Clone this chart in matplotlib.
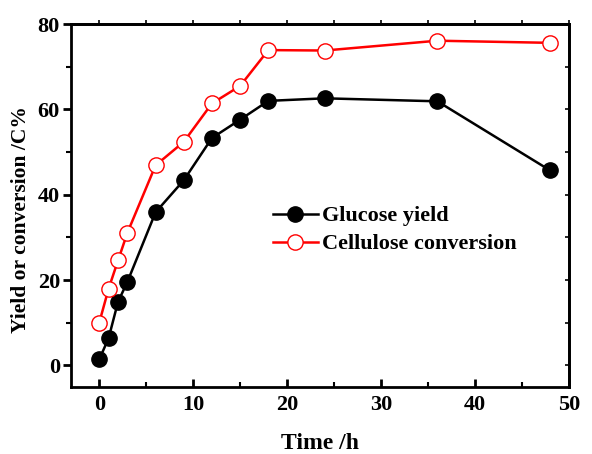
import matplotlib.pyplot as plt
from matplotlib.ticker import MultipleLocator

time_h = [0, 1, 2, 3, 6, 9, 12, 15, 18, 24, 36, 48]
glucose_yield = [1.4, 6.4, 14.9, 19.6, 35.9, 43.4, 53.3, 57.6, 62.0, 62.6, 61.9, 45.7]
cellulose_conv = [10.0, 18.0, 24.6, 31.1, 46.9, 52.4, 61.4, 65.5, 73.9, 73.8, 76.1, 75.6]

plt.rcParams['font.family'] = ['Liberation Serif', 'DejaVu Serif']
plt.rcParams['font.weight'] = 'bold'

fig = plt.figure(figsize=(5.92, 4.54), dpi=100)
ax = fig.add_axes([0.12, 0.148, 0.841, 0.799])

ax.plot(time_h, glucose_yield, color='black', lw=1.8, marker='o', ms=11,
        mfc='black', mec='black', label='Glucose yield')
ax.plot(time_h, cellulose_conv, color='red', lw=1.8, marker='o', ms=11,
        mfc='white', mec='red', mew=1.0, label='Cellulose conversion')

ax.set_xlim(-3, 50)
ax.set_ylim(-5, 80)
ax.xaxis.set_major_locator(MultipleLocator(10))
ax.xaxis.set_minor_locator(MultipleLocator(5))
ax.yaxis.set_major_locator(MultipleLocator(20))
ax.yaxis.set_minor_locator(MultipleLocator(10))

for s in ax.spines.values():
    s.set_linewidth(2)

ax.tick_params(axis='x', which='major', direction='in', length=6, width=2,
               labelsize=16, pad=6, top=False)
ax.tick_params(axis='x', which='minor', direction='in', length=3.5, width=1.5, top=False)
ax.tick_params(axis='y', which='major', direction='out', length=6, width=2,
               labelsize=16, pad=2)
ax.tick_params(axis='y', which='minor', direction='out', length=3.5, width=1.5)

# small ticks on the top (outward) and right (inward) frame
top = ax.secondary_xaxis('top')
top.xaxis.set_major_locator(MultipleLocator(5))
top.tick_params(direction='out', length=3, width=1.2, labeltop=False)
top.spines['top'].set_linewidth(2)
right = ax.secondary_yaxis('right')
right.yaxis.set_major_locator(MultipleLocator(10))
right.tick_params(direction='in', length=3, width=1.2, labelright=False)
right.spines['right'].set_linewidth(2)

ax.set_xlabel('Time /h', fontsize=17, fontweight='bold')
ax.xaxis.set_label_coords(0.5, -0.128)
ax.set_ylabel('Yield or conversion /C%', fontsize=15.5, fontweight='bold')
ax.yaxis.set_label_coords(-0.08, 0.46)

ax.legend(loc='center left', bbox_to_anchor=(0.366, 0.432), frameon=False,
          handlelength=2.0, handletextpad=0.2, labelspacing=0.33,
          prop={'weight': 'bold', 'size': 16})

fig.savefig('out.png', dpi=100)
